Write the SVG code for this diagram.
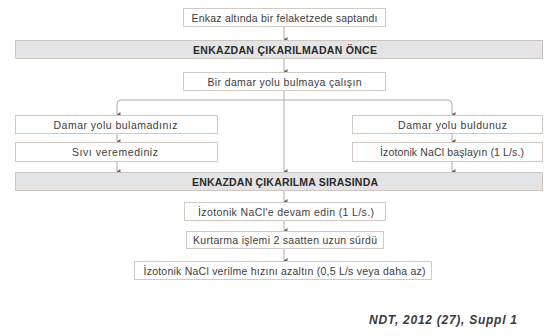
<svg xmlns="http://www.w3.org/2000/svg" width="544" height="336" viewBox="0 0 544 336">
<style>
.box{fill:#ffffff;stroke:#d3c9c3;stroke-width:1}
.band{fill:#e4e4e6;stroke:#cfc5c0;stroke-width:1}
.t{font-family:"Liberation Sans",Arial,sans-serif;font-size:10.5px;fill:#3c3c3c;text-anchor:middle;dominant-baseline:central}
.b{font-family:"Liberation Sans",Arial,sans-serif;font-size:10.5px;font-weight:bold;fill:#2a2a2a;text-anchor:middle;dominant-baseline:central}
.c{fill:none;stroke:#b0aaa7;stroke-width:1}
.cite{font-family:"Liberation Sans",Arial,sans-serif;font-size:12px;font-style:italic;font-weight:bold;fill:#3a3a3a}
</style>
<defs>
<marker id="ah" markerWidth="5" markerHeight="5" refX="2.5" refY="4.5" orient="auto-start-reverse" markerUnits="userSpaceOnUse" viewBox="0 0 5 5">
<path d="M0,1 L5,1 L2.5,5 Z" fill="#6e6864"/>
</marker>
</defs>
<rect width="544" height="336" fill="#ffffff"/>
<g id="connectors">
<line class="c" x1="284" y1="26" x2="284" y2="39.5" marker-end="url(#ah)"/>
<line class="c" x1="284" y1="58" x2="284" y2="71.5" marker-end="url(#ah)"/>
<line class="c" x1="284" y1="90" x2="284" y2="171.5" marker-end="url(#ah)"/>
<path class="c" d="M284,100 H121 Q117,100 117,104 V114.5" marker-end="url(#ah)"/>
<path class="c" d="M284,100 H448 Q452,100 452,104 V114.5" marker-end="url(#ah)"/>
<line class="c" x1="117" y1="133" x2="117" y2="141.5" marker-end="url(#ah)"/>
<line class="c" x1="117" y1="161" x2="117" y2="171.5" marker-end="url(#ah)"/>
<line class="c" x1="452" y1="133" x2="452" y2="141.5" marker-end="url(#ah)"/>
<line class="c" x1="452" y1="161" x2="452" y2="171.5" marker-end="url(#ah)"/>
<line class="c" x1="284" y1="190" x2="284" y2="201.5" marker-end="url(#ah)"/>
<line class="c" x1="284" y1="220" x2="284" y2="230.5" marker-end="url(#ah)"/>
<line class="c" x1="284" y1="248" x2="284" y2="260.5" marker-end="url(#ah)"/>
</g>
<g id="n1"><rect class="box" x="183.5" y="8.5" width="202" height="18"/><text class="t" x="284.5" y="17.5" textLength="186">Enkaz altında bir felaketzede saptandı</text></g>
<g id="band1"><rect class="band" x="15.5" y="40.5" width="527" height="18"/><text class="b" x="285" y="49.5" textLength="184">ENKAZDAN ÇIKARILMADAN ÖNCE</text></g>
<g id="n2"><rect class="box" x="183.5" y="72.5" width="202" height="18"/><text class="t" x="284.5" y="81.5" textLength="154">Bir damar yolu bulmaya çalışın</text></g>
<g id="n3"><rect class="box" x="15.5" y="115.5" width="202" height="18"/><text class="t" x="115.5" y="124.5" textLength="124">Damar yolu bulamadınız</text></g>
<g id="n4"><rect class="box" x="15.5" y="142.5" width="202" height="19"/><text class="t" x="115" y="152" textLength="86">Sıvı veremediniz</text></g>
<g id="n5"><rect class="box" x="352.5" y="115.5" width="190" height="18"/><text class="t" x="452.5" y="124.5" textLength="109">Damar yolu buldunuz</text></g>
<g id="n6"><rect class="box" x="352.5" y="142.5" width="190" height="19"/><text class="t" x="452" y="152" textLength="144">İzotonik NaCl başlayın (1 L/s.)</text></g>
<g id="band2"><rect class="band" x="15.5" y="172.5" width="527" height="18"/><text class="b" x="285" y="181.5" textLength="186">ENKAZDAN ÇIKARILMA SIRASINDA</text></g>
<g id="n7"><rect class="box" x="184.5" y="202.5" width="201" height="18"/><text class="t" x="286" y="211.5" textLength="176">İzotonik NaCl'e devam edin (1 L/s.)</text></g>
<g id="n8"><rect class="box" x="186.5" y="231.5" width="197" height="17"/><text class="t" x="285" y="240" textLength="184">Kurtarma işlemi 2 saatten uzun sürdü</text></g>
<g id="n9"><rect class="box" x="134.5" y="261.5" width="297" height="18"/><text class="t" x="284.5" y="270.5" textLength="282">İzotonik NaCl verilme hızını azaltın (0,5 L/s veya daha az)</text></g>
<text class="cite" x="369" y="324" textLength="148">NDT, 2012 (27), Suppl 1</text>
</svg>
